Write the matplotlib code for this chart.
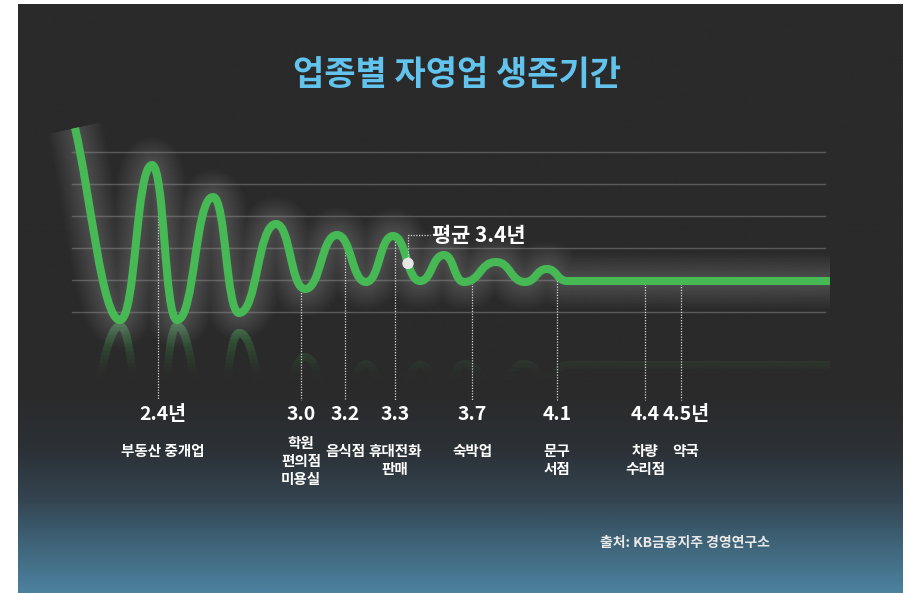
import numpy as np
import matplotlib.pyplot as plt
from matplotlib.path import Path
from matplotlib.patches import PathPatch, Circle, Rectangle
from matplotlib.colors import LinearSegmentedColormap

plt.rcParams['font.family'] = ['Noto Sans CJK KR', 'DejaVu Sans']

# ── 데이터 ────────────────────────────────────────────────────
categories = ["부동산 중개업", "학원\n편의점\n미용실", "음식점", "휴대전화\n판매",
              "숙박업", "문구\n서점", "차량\n수리점", "약국"]
years = [2.4, 3.0, 3.2, 3.3, 3.7, 4.1, 4.4, 4.5]
avg_years = 3.4

# 물결선 꼭짓점 (x, y) – 화면 좌표
wave_x = [75, 120, 152, 177, 213, 239, 276, 305, 337, 366, 393, 420, 444, 464, 496, 525, 547, 567, 830]
wave_y = [128, 320, 165, 320, 197, 313, 224, 289, 235, 282, 236, 281, 255, 282, 262, 282, 269, 281, 281]

# ── 레이아웃 ──────────────────────────────────────────────────
W, H = 909, 593
guide_x = [158, 301, 345, 395, 472, 557, 645, 681]
avg_x = 408
grid_y = [152, 184, 216, 248, 280, 312]
GREEN = "#46b955"

fig = plt.figure(figsize=(W / 100, H / 100), dpi=100, facecolor="white")
ax = fig.add_axes([0, 0, 1, 1])
ax.set_xlim(0, W)
ax.set_ylim(H, 0)
ax.axis("off")

# 배경 그라데이션
stops = [(0.0, "#2a2a2a"), (0.66, "#2a2a2a"), (0.76, "#2c3136"),
         (0.84, "#33434f"), (0.92, "#3f6479"), (1.0, "#4c819e")]
bg_cmap = LinearSegmentedColormap.from_list("bg", stops)
grad = np.linspace(0, 1, 400).reshape(-1, 1)
ax.imshow(grad, cmap=bg_cmap, aspect="auto", extent=(18, 903, H, 4),
          origin="upper", zorder=0)

# 가로 보조선
for gy in grid_y:
    ax.plot([72, 825], [gy, gy], color="#5a5a5a", lw=1.0, zorder=1)


def wave_path(xs, ys, k=0.5):
    verts = [(xs[0], ys[0])]
    codes = [Path.MOVETO]
    # 첫 구간은 거의 직선으로 내려감
    dx, dy = xs[1] - xs[0], ys[1] - ys[0]
    verts += [(xs[0] + 0.35 * dx, ys[0] + 0.35 * dy), (xs[1] - 0.4 * dx, ys[1]), (xs[1], ys[1])]
    codes += [Path.CURVE4] * 3
    for i in range(1, len(xs) - 2):
        dx = xs[i + 1] - xs[i]
        verts += [(xs[i] + k * dx, ys[i]), (xs[i + 1] - k * dx, ys[i + 1]), (xs[i + 1], ys[i + 1])]
        codes += [Path.CURVE4] * 3
    verts.append((xs[-1], ys[-1]))
    codes.append(Path.LINETO)
    return Path(verts, codes)


path = wave_path(wave_x, wave_y)
poly = path.to_polygons(closed_only=False)[0]
curve_x, curve_y = poly[:, 0], poly[:, 1]

# 반사 (아래로 뒤집어 흐리게)
mirror_y = 323
refl = wave_path(wave_x, [2 * mirror_y - y for y in wave_y])
n_band = 14
for i in range(n_band):
    y0 = mirror_y + i * 4
    clip = Rectangle((0, y0), W, 4, transform=ax.transData)
    p = PathPatch(refl, fill=False, edgecolor=GREEN, lw=5.8, capstyle="butt",
                  alpha=0.45 * (1 - i / n_band) ** 1.6, zorder=2)
    ax.add_patch(p)
    p.set_clip_path(clip)

# 선 주변 빛번짐 (여러 겹으로 부드럽게)
for lw in np.linspace(40, 8, 16):
    ax.add_patch(PathPatch(path, fill=False, edgecolor="white", lw=lw, alpha=0.012,
                           capstyle="butt", joinstyle="round", zorder=2))

# 세로 점선 (물결선에서 값 라벨까지)
for gx in guide_x:
    top = np.interp(gx, curve_x, curve_y)
    ax.plot([gx, gx], [top, 400], color="#d8d8d8", lw=0.9,
            linestyle=(0, (1, 1.2)), zorder=3)

# 물결선
ax.add_patch(PathPatch(path, fill=False, edgecolor=GREEN, lw=5.8,
                       capstyle="butt", joinstyle="round", zorder=4))

# 평균 표시
avg_y = np.interp(avg_x, curve_x, curve_y)
ax.plot([avg_x, avg_x, 430], [avg_y, 235, 235], color="#d8d8d8", lw=0.9,
        linestyle=(0, (1, 1.2)), zorder=5)
ax.add_patch(Circle((avg_x, avg_y), 5, color="#e6e6e6", zorder=6))
ax.text(432, 236, f"평균 {avg_years}년", color="white", fontsize=15,
        fontweight="bold", ha="left", va="center", zorder=6)

# 값 / 업종 라벨
for i, (gx, v, cat) in enumerate(zip(guide_x, years, categories)):
    edge = i in (0, len(years) - 1)
    suffix = "년" if edge else ""
    ax.text(gx + (5 if edge else 0), 414, f"{v:.1f}{suffix}", color="white",
            fontsize=14, fontweight="bold", ha="center", va="center")
    n_lines = cat.count("\n") + 1
    ax.text(gx + (5 if edge else 0), 435 if n_lines == 3 else 443,
            cat, color="white", fontsize=10.5, fontweight="bold",
            ha="center", va="top", linespacing=1.15)

# 제목 / 출처
ax.text(457, 75, "업종별 자영업 생존기간", color="#62c3ec", fontsize=24.5,
        fontweight="bold", ha="center", va="center")
ax.text(685, 543, "출처: KB금융지주 경영연구소", color="#e8e8e8", fontsize=10,
        fontweight="bold", ha="center", va="center")

fig.savefig("out.png", dpi=100, facecolor="white")
